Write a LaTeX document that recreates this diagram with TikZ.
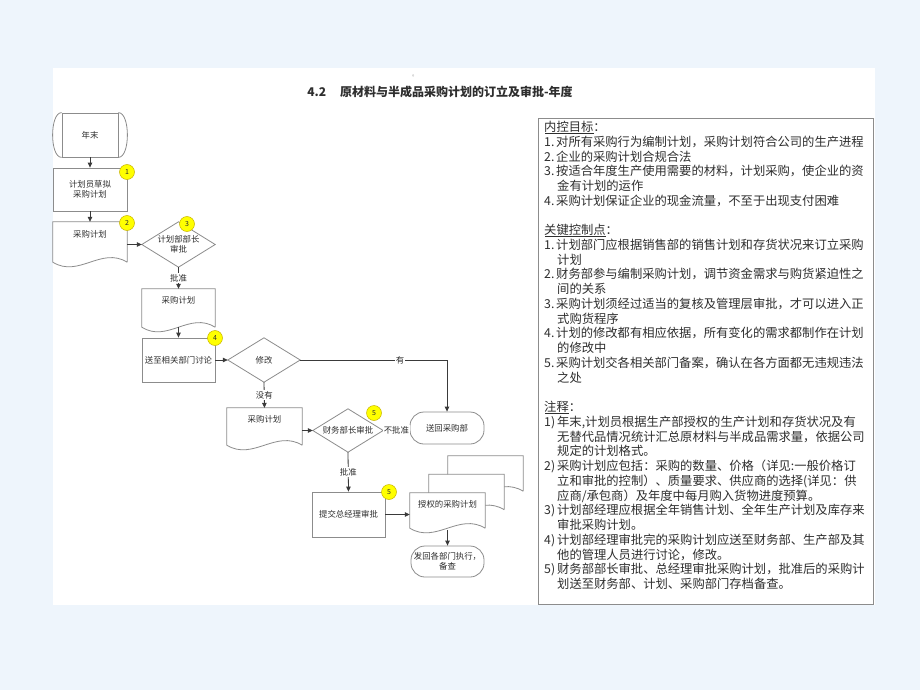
\documentclass[tikz,border=0pt]{standalone}
\usepackage{fontspec}
\setmainfont{Noto Sans CJK SC}
\usetikzlibrary{arrows.meta,calc}
\definecolor{bgblue}{HTML}{EEF5FC}
\definecolor{shpline}{HTML}{8C8C8C}
\definecolor{txt}{HTML}{2E2E2E}
\definecolor{badgefill}{HTML}{FFFF00}
\definecolor{badgeline}{HTML}{C8B400}
\definecolor{connc}{HTML}{3A3A3A}
\pgfdeclarelayer{bottom}
\pgfdeclarelayer{background}
\pgfsetlayers{bottom,background,main}
\tikzset{
 shp/.style={draw=shpline, line width=0.8},
 fc/.style={font=\fontsize{8.4}{10.3}\selectfont, text=txt, align=center, inner sep=0pt},
 boxnode/.style={fc, shp, rectangle, minimum width=73pt, minimum height=44pt},
 plainnode/.style={fc, rectangle, draw=none},
 term/.style={fc, shp, rounded corners=14pt, minimum width=73pt, minimum height=32pt},
 conn/.style={draw=connc, line width=0.8, -{Triangle[length=5pt,width=4.5pt]}},
 plainline/.style={draw=connc, line width=0.8},
 lbl/.style={fc, fill=white, inner sep=1.2pt},
 badge/.style={circle, fill=badgefill, draw=badgeline, line width=0.5, minimum size=15pt, inner sep=0pt, font=\fontsize{7}{8}\selectfont, text=txt},
 headline/.style={draw=txt, line width=1.0},
}
\newcommand\docat[4]{%
 \draw[shp,fill=white] ($(#1.south east)+(#3,#4)$) -- ($(#1.north east)+(#3,#4)$) -- ($(#1.north west)+(#3,#4)$) -- ($(#1.south west)+(#3,#4)$) .. controls +(0.35*#2,16) and +(-0.35*#2,-16) .. ($(#1.south east)+(#3,#4)$);}
\newcommand\lab[1]{\makebox[12pt][l]{#1}}
\newcommand\labb[1]{\makebox[13pt][l]{#1}}
\newcommand\cont{\hspace*{13pt}}
\newcommand\contb{\hspace*{13pt}}
\begin{document}
\begin{tikzpicture}[x=1pt,y=-1pt]
\useasboundingbox (0,0) rectangle (920,690);
\begin{pgfonlayer}{bottom}
\fill[bgblue] (0,0) rectangle (920,690);
\fill[white] (53,68) rectangle (875,605);
\end{pgfonlayer}

% title
\node[font=\fontsize{12}{14}\selectfont\bfseries, text=txt, inner sep=0] (title) at (440,92) {4.2\hspace{14pt}原材料与半成品采购计划的订立及审批-年度};
\node[font=\fontsize{6}{7}\selectfont, text=shpline, inner sep=0] (dot) at (415,76) {。};

% flow nodes
\node[plainnode, shp, minimum width=56pt, minimum height=44pt] (start) at (90,135) {年末};
\draw[shp] (start.north west) .. controls +(-12,0) and +(-12,0) .. (start.south west);
\draw[shp] (start.north east) .. controls +(12,0) and +(12,0) .. (start.south east);

\node[boxnode, minimum width=74pt, minimum height=43pt] (box1) at (90,189.5) {计划员草拟\\采购计划};
\node[plainnode, minimum width=74pt, minimum height=40pt] (doc1) at (90,242) {采购计划\\[6pt]};
\node[plainnode, minimum width=73pt, minimum height=45pt] (d1) at (178.5,244.5) {计划部部长\\审批};
\node[plainnode, minimum width=73pt, minimum height=38pt] (doc2) at (178.5,308) {采购计划\\[6pt]};
\node[boxnode, minimum width=73pt, minimum height=44pt] (box4) at (178.5,360) {送至相关部门讨论};
\node[plainnode, minimum width=72pt, minimum height=44pt] (d2) at (264,360) {修改};
\node[plainnode, minimum width=75pt, minimum height=37pt] (doc3) at (264.5,426.5) {采购计划\\[4pt]};
\node[plainnode, minimum width=70pt, minimum height=43pt] (d3) at (348,430.5) {财务部长审批};
\node[term, minimum width=74pt, minimum height=32pt] (ret) at (447,428) {送回采购部};
\node[boxnode, minimum width=73pt, minimum height=45pt] (box5) at (348.5,514.5) {提交总经理审批};
\node[plainnode, minimum width=75pt, minimum height=35pt] (auth) at (447.5,510.5) {授权的采购计划\\[3pt]};
\node[term, minimum width=73pt, minimum height=31pt] (fin) at (447.5,561.5) {发回各部门执行，\\备查};

\begin{pgfonlayer}{background}
\docat{doc1}{74}{0}{0}
\docat{doc2}{73}{0}{0}
\docat{doc3}{75}{0}{0}
\docat{auth}{75}{38}{-37}
\docat{auth}{75}{19}{-18.5}
\docat{auth}{75}{0}{0}
\draw[shp] (d1.west) -- (d1.north) -- (d1.east) -- (d1.south) -- cycle;
\draw[shp] (d2.west) -- (d2.north) -- (d2.east) -- (d2.south) -- cycle;
\draw[shp] (d3.west) -- (d3.north) -- (d3.east) -- (d3.south) -- cycle;
\end{pgfonlayer}

% connectors
\draw[conn] (start.south) -- (box1.north);
\draw[conn] (box1.south) -- (doc1.north);
\draw[conn] (d1.west -| doc1.east) -- (d1.west);
\draw[conn] (d1.south) -- node[lbl]{批准} (doc2.north);
\draw[conn] (doc2.south) -- (box4.north);
\draw[conn] (box4.east) -- (d2.west);
\draw[conn] (d2.east) -- node[lbl, pos=0.68]{有} (d2.east -| ret.north) -- (ret.north);
\draw[conn] (d2.south) -- node[lbl]{没有} (doc3.north);
\draw[conn] (d3.west -| doc3.east) -- (d3.west);
\draw[plainline] (d3.east) -- node[lbl]{不批准} (d3.east -| ret.west);
\draw[conn] (d3.south) -- node[lbl]{批准} (box5.north);
\draw[conn] (box5.east) -- (box5.east -| auth.west);
\draw[conn] ($(auth.south)+(0,2)$) -- (fin.north);

% badges
\node[badge] (b1) at (127,172) {1};
\node[badge] (b2) at (127,223) {2};
\node[badge] (b3) at (187,224) {3};
\node[badge] (b4) at (215,338) {4};
\node[badge] (b5) at (374,413) {5};
\node[badge] (b6) at (389,492) {5};

% notes box
\node[draw=shpline, line width=0.8, minimum width=335pt, minimum height=486pt, inner sep=0, anchor=north west] (frame) at (538,118) {};
\node[anchor=north west, inner sep=0, align=left, font=\fontsize{12.3}{14.74}\selectfont, text=txt] (notes) at (544,121) {%
内控目标：\\
\lab{1.}对所有采购行为编制计划，采购计划符合公司的生产进程\\
\lab{2.}企业的采购计划合规合法\\
\lab{3.}按适合年度生产使用需要的材料，计划采购，使企业的资\\
\cont 金有计划的运作\\
\lab{4.}采购计划保证企业的现金流量，不至于出现支付困难\\
\mbox{}\\
关键控制点：\\
\lab{1.}计划部门应根据销售部的销售计划和存货状况来订立采购\\
\cont 计划\\
\lab{2.}财务部参与编制采购计划，调节资金需求与购货紧迫性之\\
\cont 间的关系\\
\lab{3.}采购计划须经过适当的复核及管理层审批，才可以进入正\\
\cont 式购货程序\\
\lab{4.}计划的修改都有相应依据，所有变化的需求都制作在计划\\
\cont 的修改中\\
\lab{5.}采购计划交各相关部门备案，确认在各方面都无违规违法\\
\cont 之处\\
\mbox{}\\
注释：\\
\labb{1)}年末,计划员根据生产部授权的生产计划和存货状况及有\\
\contb 无替代品情况统计汇总原材料与半成品需求量，依据公司\\
\contb 规定的计划格式。\\
\labb{2)}采购计划应包括：采购的数量、价格（详见:一般价格订\\
\contb 立和审批的控制）、质量要求、供应商的选择(详见：供\\
\contb 应商/承包商）及年度中每月购入货物进度预算。\\
\labb{3)}计划部经理应根据全年销售计划、全年生产计划及库存来\\
\contb 审批采购计划。\\
\labb{4)}计划部经理审批完的采购计划应送至财务部、生产部及其\\
\contb 他的管理人员进行讨论，修改。\\
\labb{5)}财务部部长审批、总经理审批采购计划，批准后的采购计\\
\contb 划送至财务部、计划、采购部门存档备查。};
% heading underlines
\coordinate (u1) at (545,133.5);
\coordinate (u1e) at (594,133.5);
\coordinate (u2) at (545,236.5);
\coordinate (u2e) at (606,236.5);
\coordinate (u3) at (545,413);
\coordinate (u3e) at (569,413);
\draw[headline] (u1) -- (u1e);
\draw[headline] (u2) -- (u2e);
\draw[headline] (u3) -- (u3e);
\end{tikzpicture}
\end{document}
